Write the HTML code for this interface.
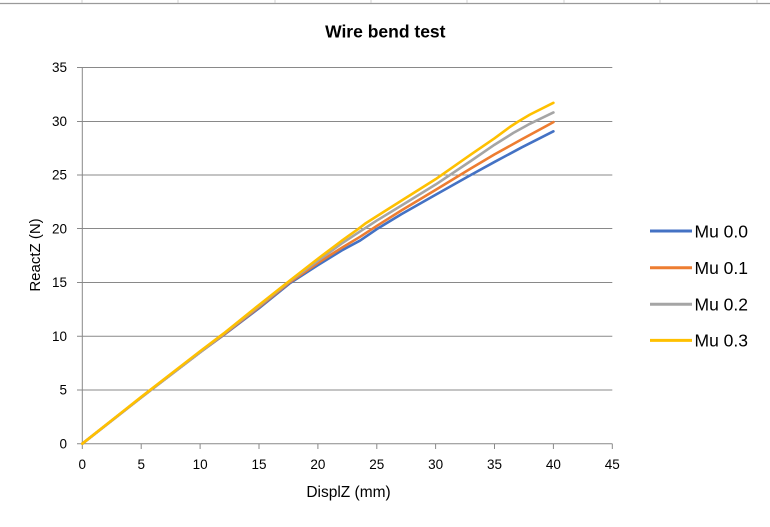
<!DOCTYPE html>
<html>
<head>
<meta charset="utf-8">
<style>
  html,body{margin:0;padding:0;background:#fff;}
  svg{display:block;}
  text{font-family:"Liberation Sans", sans-serif; fill:#000;}
</style>
</head>
<body>
<svg width="770" height="527" viewBox="0 0 770 527" xmlns="http://www.w3.org/2000/svg">
  <rect x="0" y="0" width="770" height="527" fill="#fff"/>
  <!-- excel cell grid at top -->
  <line x1="0" y1="3.5" x2="770" y2="3.5" stroke="#9a9a9a" stroke-width="1.2"/>
  <g stroke="#d0d0d0" stroke-width="1">
    <line x1="82" y1="0" x2="82" y2="3"/>
    <line x1="178" y1="0" x2="178" y2="3"/>
    <line x1="275" y1="0" x2="275" y2="3"/>
    <line x1="371" y1="0" x2="371" y2="3"/>
    <line x1="467" y1="0" x2="467" y2="3"/>
    <line x1="564" y1="0" x2="564" y2="3"/>
    <line x1="660" y1="0" x2="660" y2="3"/>
    <line x1="757" y1="0" x2="757" y2="3"/>
  </g>

  <!-- title -->
  <text x="385.3" y="37.5" font-size="17.5" font-weight="bold" text-anchor="middle">Wire bend test</text>

  <!-- gridlines (with left tick) -->
  <g stroke="#898989" stroke-width="1">
    <line x1="77" y1="67.5" x2="612.3" y2="67.5"/>
    <line x1="77" y1="121.5" x2="612.3" y2="121.5"/>
    <line x1="77" y1="175" x2="612.3" y2="175"/>
    <line x1="77" y1="228.5" x2="612.3" y2="228.5"/>
    <line x1="77" y1="282.5" x2="612.3" y2="282.5"/>
    <line x1="77" y1="336.2" x2="612.3" y2="336.2"/>
    <line x1="77" y1="390" x2="612.3" y2="390"/>
    <line x1="77" y1="443.7" x2="612.3" y2="443.7"/>
    <!-- y axis -->
    <line x1="82.3" y1="67.3" x2="82.3" y2="449"/>
    <!-- x ticks -->
    <line x1="141.2" y1="443.7" x2="141.2" y2="449"/>
    <line x1="200.1" y1="443.7" x2="200.1" y2="449"/>
    <line x1="259.0" y1="443.7" x2="259.0" y2="449"/>
    <line x1="317.9" y1="443.7" x2="317.9" y2="449"/>
    <line x1="376.8" y1="443.7" x2="376.8" y2="449"/>
    <line x1="435.6" y1="443.7" x2="435.6" y2="449"/>
    <line x1="494.5" y1="443.7" x2="494.5" y2="449"/>
    <line x1="553.4" y1="443.7" x2="553.4" y2="449"/>
    <line x1="612.3" y1="443.7" x2="612.3" y2="449"/>
  </g>

  <!-- y tick labels -->
  <g font-size="13.5" text-anchor="end">
    <text x="67" y="72.2">35</text>
    <text x="67" y="126">30</text>
    <text x="67" y="179.7">25</text>
    <text x="67" y="233.4">20</text>
    <text x="67" y="287.2">15</text>
    <text x="67" y="341">10</text>
    <text x="67" y="394.7">5</text>
    <text x="67" y="448.5">0</text>
  </g>
  <!-- x tick labels -->
  <g font-size="13.5" text-anchor="middle">
    <text x="82.3" y="469">0</text>
    <text x="141.2" y="469">5</text>
    <text x="200.1" y="469">10</text>
    <text x="259.0" y="469">15</text>
    <text x="317.9" y="469">20</text>
    <text x="376.8" y="469">25</text>
    <text x="435.6" y="469">30</text>
    <text x="494.5" y="469">35</text>
    <text x="553.4" y="469">40</text>
    <text x="612.3" y="469">45</text>
  </g>

  <!-- axis titles -->
  <text x="348.5" y="497" font-size="15.5" text-anchor="middle">DisplZ (mm)</text>
  <text transform="translate(40,255) rotate(-90)" x="0" y="0" font-size="15" text-anchor="middle">ReactZ (N)</text>

  <!-- series -->
  <g transform="translate(82.3,443.7) scale(11.778,-10.754)" fill="none" stroke-linejoin="round" stroke-linecap="round">
    <polyline vector-effect="non-scaling-stroke" stroke="#4472C4" stroke-width="2.6"
      points="0,0 5,4.3 10,8.5 12,10.1 15,12.6 17.6,14.9 20,16.6 22,17.95 23.6,18.9 25,19.95 27.1,21.35 30,23.15 33,25.0 35,26.2 37.3,27.55 40,29.05"/>
    <polyline vector-effect="non-scaling-stroke" stroke="#ED7D31" stroke-width="2.6"
      points="0,0 5,4.3 10,8.5 12,10.15 15,12.7 17.6,15.0 20,16.8 22,18.2 23.6,19.25 25,20.25 27.1,21.7 30,23.6 33,25.6 35,26.9 37.3,28.3 40,29.9"/>
    <polyline vector-effect="non-scaling-stroke" stroke="#A5A5A5" stroke-width="2.6"
      points="0,0 5,4.3 10,8.5 12,10.2 15,12.8 17.6,15.1 20,17.0 22,18.6 23.6,19.75 25,20.75 27.1,22.15 30,24.1 33,26.3 35,27.8 36.6,28.9 38,29.75 40,30.8"/>
    <polyline vector-effect="non-scaling-stroke" stroke="#FFC000" stroke-width="2.6"
      points="0,0 5,4.35 10,8.6 12,10.25 15,12.9 17.6,15.15 20,17.2 22,18.85 23.4,19.95 24,20.45 25,21.15 27.1,22.6 30,24.6 33,26.9 35,28.4 36.3,29.45 37,29.95 38,30.6 40,31.7"/>
  </g>

  <!-- legend -->
  <g stroke-width="3">
    <line x1="650" y1="231" x2="692" y2="231" stroke="#4472C4"/>
    <line x1="650" y1="267.8" x2="692" y2="267.8" stroke="#ED7D31"/>
    <line x1="650" y1="304.2" x2="692" y2="304.2" stroke="#A5A5A5"/>
    <line x1="650" y1="340.4" x2="692" y2="340.4" stroke="#FFC000"/>
  </g>
  <g font-size="17.5">
    <text x="694.5" y="237.3">Mu 0.0</text>
    <text x="694.5" y="274.1">Mu 0.1</text>
    <text x="694.5" y="310.5">Mu 0.2</text>
    <text x="694.5" y="346.7">Mu 0.3</text>
  </g>
</svg>
</body>
</html>
